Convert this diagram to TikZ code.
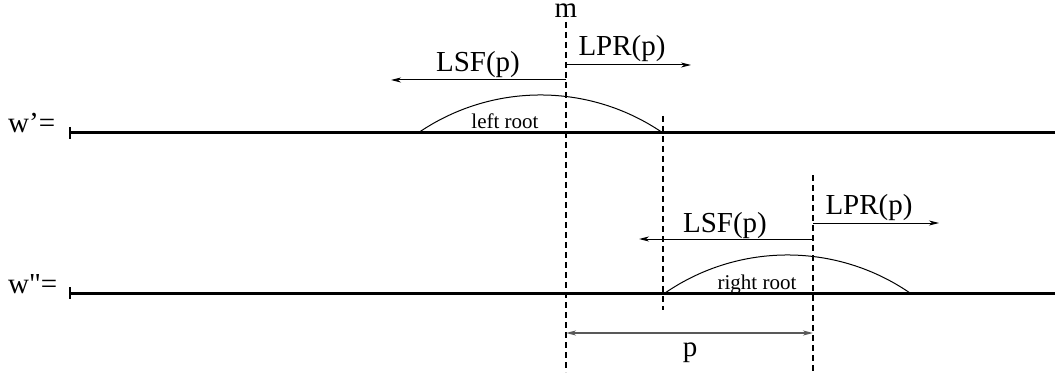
\documentclass[tikz,border=0pt]{standalone}
\usepackage{fontspec}
\setmainfont{Liberation Serif}[Ligatures=TeXOff]
\usetikzlibrary{arrows.meta}
\tikzset{
  big/.style={font=\fontsize{29}{29}\selectfont, inner sep=0pt},
  small/.style={font=\fontsize{21}{21}\selectfont, inner sep=0pt},
  word/.style={line width=3pt},
  tick/.style={line width=2pt},
  guide/.style={line width=1.2pt, dash pattern=on 6pt off 4pt},
  arr/.style={line width=1pt, -{Stealth[length=10pt,width=5pt,inset=3pt]}},
  dim/.style={line width=1.6pt, draw=black!65, {Stealth[length=10pt,width=5pt,inset=3pt]}-{Stealth[length=10pt,width=5pt,inset=3pt]}},
  rootarc/.style={line width=1pt}
}
\begin{document}
\begin{tikzpicture}[x=1pt,y=-1pt]
\useasboundingbox (0,0) rectangle (1055,377);
% coordinates
\coordinate (w1s) at (70,133);
\coordinate (w1e) at (1055,133);
\coordinate (w2s) at (70,293);
\coordinate (w2e) at (1055,293);
\coordinate (t1a) at (70,127);
\coordinate (t1b) at (70,139);
\coordinate (t2a) at (70,287);
\coordinate (t2b) at (70,299);
\coordinate (mtop) at (566,22);
\coordinate (mbot) at (566,372);
\coordinate (atop) at (663,116);
\coordinate (abot) at (663,310);
\coordinate (btop) at (813,175);
\coordinate (bbot) at (813,374);
% labels
\node[big, anchor=base west] (wp) at (8,133) {w’=};
\node[big, anchor=base west] (wpp) at (8,293) {w"=};
\node[big, anchor=base] (m) at (566,18) {m};
% words
\draw[word] (w1s) -- (w1e);
\draw[word] (w2s) -- (w2e);
\draw[tick] (t1a) -- (t1b);
\draw[tick] (t2a) -- (t2b);
% guides
\draw[guide] (mtop) -- (mbot);
\draw[guide] (atop) -- (abot);
\draw[guide] (btop) -- (bbot);
% top arrows
\coordinate (lsf1s) at (566,80);
\coordinate (lsf1e) at (391,80);
\coordinate (lpr1s) at (566,65);
\coordinate (lpr1e) at (691,65);
\draw[arr] (lsf1s) -- (lsf1e);
\draw[arr] (lpr1s) -- (lpr1e);
\node[big, anchor=base] (lsf1) at (478,72) {LSF(p)};
\node[big, anchor=base] (lpr1) at (622,56) {LPR(p)};
% bottom arrows
\coordinate (lsf2s) at (813,239);
\coordinate (lsf2e) at (639,239);
\coordinate (lpr2s) at (813,223);
\coordinate (lpr2e) at (939,223);
\draw[arr] (lsf2s) -- (lsf2e);
\draw[arr] (lpr2s) -- (lpr2e);
\node[big, anchor=base] (lsf2) at (725,232) {LSF(p)};
\node[big, anchor=base] (lpr2) at (869,214) {LPR(p)};
% roots
\coordinate (r1s) at (418,133);
\coordinate (r1e) at (663,133);
\draw[rootarc] (r1s) .. controls (491.9,82.3) and (589.1,82.3) .. (r1e);
\node[small, anchor=base] (lr) at (505,129) {left root};
\coordinate (r2s) at (665,293);
\coordinate (r2e) at (910,293);
\draw[rootarc] (r2s) .. controls (738.9,242.3) and (836.1,242.3) .. (r2e);
\node[small, anchor=base] (rr) at (757,289) {right root};
% p dimension
\coordinate (ps) at (566,333);
\coordinate (pe) at (813,333);
\draw[dim] (ps) -- (pe);
\node[big, anchor=base] (p) at (690,356) {p};
\end{tikzpicture}
\end{document}
